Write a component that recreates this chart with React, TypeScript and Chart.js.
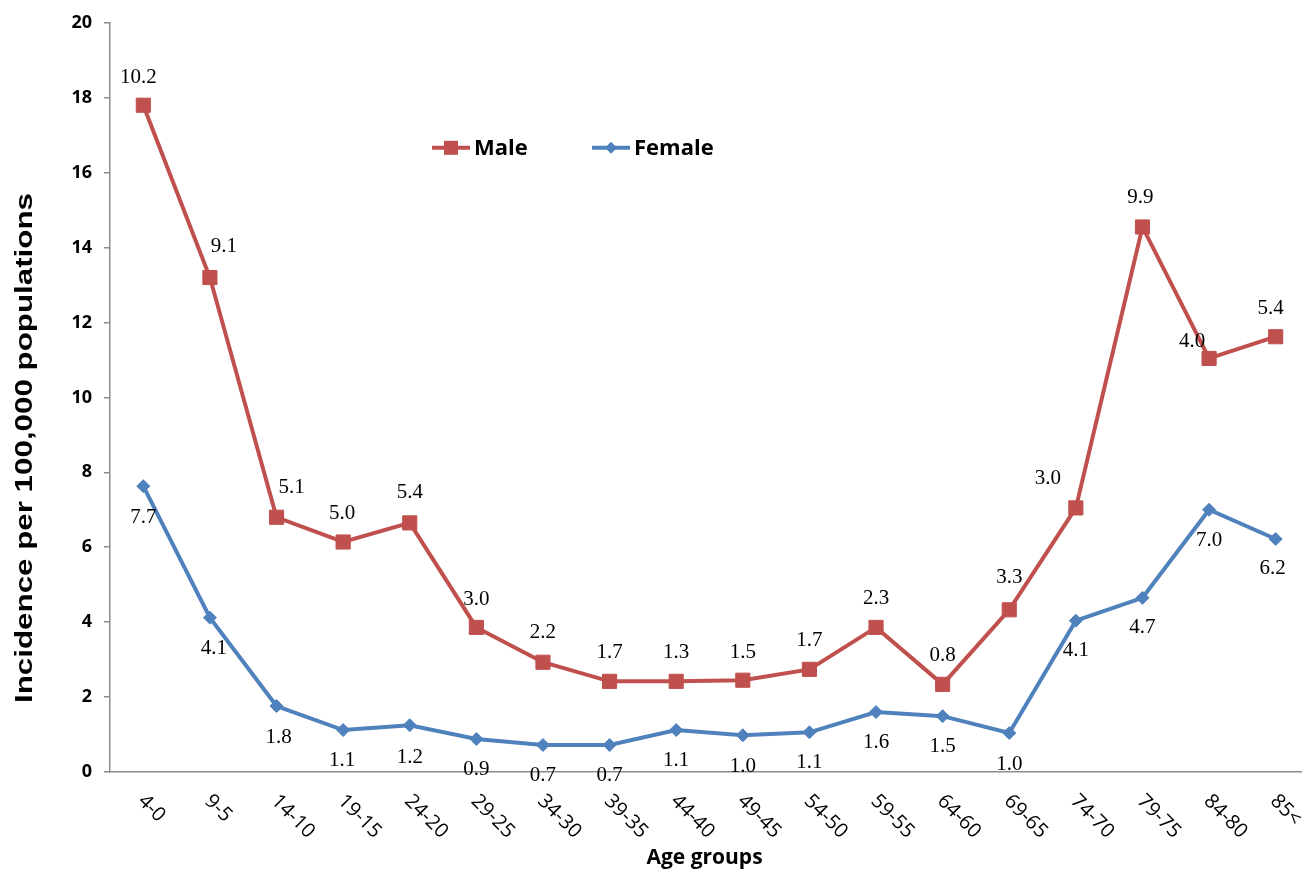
import React, { useEffect, useRef } from "react";
import { Chart, registerables } from "chart.js";

Chart.register(...registerables);

const ageGroups = ["4-0", "9-5", "14-10", "19-15", "24-20", "29-25", "34-30", "39-35", "44-40", "49-45", "54-50", "59-55", "64-60", "69-65", "74-70", "79-75", "84-80", "85<"];

const maleValues = [17.8, 13.2, 6.8, 6.14, 6.65, 3.86, 2.93, 2.42, 2.42, 2.45, 2.74, 3.86, 2.34, 4.33, 7.05, 14.55, 11.04, 11.62];
const femaleValues = [7.63, 4.12, 1.76, 1.12, 1.25, 0.88, 0.72, 0.72, 1.12, 0.98, 1.06, 1.6, 1.49, 1.04, 4.04, 4.65, 7.0, 6.22];

const maleLabels = ["10.2", "9.1", "5.1", "5.0", "5.4", "3.0", "2.2", "1.7", "1.3", "1.5", "1.7", "2.3", "0.8", "3.3", "3.0", "9.9", "4.0", "5.4"];
const femaleLabels = ["7.7", "4.1", "1.8", "1.1", "1.2", "0.9", "0.7", "0.7", "1.1", "1.0", "1.1", "1.6", "1.5", "1.0", "4.1", "4.7", "7.0", "6.2"];

// label placement nudges (pixels) relative to each point
const maleLabelDx = [-5, 14, 15, -1, 0, 0, 0, 0, 0, 0, 0, 0, 0, 0, -28, -2, -17, -5];
const maleLabelDy = [-28, -31, -30, -29, -30, -28, -30, -29, -29, -28, -29, -29, -29, -32, -29, -29, -17, -28];
const femaleLabelDx = [0, 4, 2, -1, 0, 0, 0, 0, 0, 0, 0, 0, 0, 0, 0, 0, 0, -3];
const femaleLabelDy = [31, 31, 31, 30, 32, 30, 30, 30, 30, 31, 30, 30, 30, 31, 30, 30, 31, 29];

const yTicks = [0, 2, 4, 6, 8, 10, 12, 14, 16, 18, 20];

const MALE = "#C0504D";
const FEMALE = "#4F81BD";

const overlayPlugin = {
  id: "overlay",
  afterDatasetsDraw(chart: any) {
    const ctx = chart.ctx as CanvasRenderingContext2D;
    ctx.save();
    ctx.font = '21px "Liberation Serif"';
    ctx.fillStyle = "#000";
    ctx.textAlign = "center";
    ctx.textBaseline = "middle";
    chart.getDatasetMeta(0).data.forEach((pt: any, i: number) => {
      ctx.fillText(maleLabels[i], pt.x + maleLabelDx[i], pt.y + maleLabelDy[i]);
    });
    chart.getDatasetMeta(1).data.forEach((pt: any, i: number) => {
      ctx.fillText(femaleLabels[i], pt.x + femaleLabelDx[i], pt.y + femaleLabelDy[i]);
    });
    ctx.restore();
  },
  afterDraw(chart: any) {
    const ctx = chart.ctx as CanvasRenderingContext2D;
    const area = chart.chartArea;
    const xs = chart.scales.x;
    ctx.save();
    // x tick labels, rotated 45deg clockwise, starting at the tick
    ctx.font = '20px "Open Sans"';
    ctx.fillStyle = "#000";
    ctx.textAlign = "left";
    ctx.textBaseline = "top";
    ageGroups.forEach((lab, i) => {
      const px = xs.getPixelForValue(i);
      ctx.save();
      ctx.translate(px + 5, area.bottom + 19);
      ctx.rotate(Math.PI / 4);
      ctx.fillText(lab, 0, 0);
      ctx.restore();
    });
    // x title
    ctx.font = 'bold 21px "Open Sans"';
    ctx.textAlign = "center";
    ctx.textBaseline = "middle";
    ctx.fillText("Age groups", (area.left + area.right) / 2 - 5, area.bottom + 86);
    // y title
    ctx.save();
    ctx.translate(25, 448);
    ctx.rotate(-Math.PI / 2);
    ctx.font = 'bold 24px "Liberation Sans"';
    const title = "Incidence per 100,000 populations";
    const w = ctx.measureText(title).width;
    ctx.scale(510 / w, 1);
    ctx.fillText(title, 0, 0);
    ctx.restore();
    // legend
    const drawEntry = (x0: number, y0: number, color: string, style: string, text: string) => {
      ctx.strokeStyle = color;
      ctx.lineWidth = 4;
      ctx.beginPath();
      ctx.moveTo(x0, y0);
      ctx.lineTo(x0 + 38, y0);
      ctx.stroke();
      ctx.fillStyle = color;
      const cx = x0 + 19;
      if (style === "rect") {
        ctx.fillRect(cx - 7, y0 - 7, 14, 14);
      } else {
        ctx.beginPath();
        ctx.moveTo(cx, y0 - 6);
        ctx.lineTo(cx + 6, y0);
        ctx.lineTo(cx, y0 + 6);
        ctx.lineTo(cx - 6, y0);
        ctx.closePath();
        ctx.fill();
      }
      ctx.fillStyle = "#000";
      ctx.font = 'bold 22px "Open Sans"';
      ctx.textAlign = "left";
      ctx.textBaseline = "middle";
      ctx.fillText(text, x0 + 42, y0 + 1);
    };
    drawEntry(area.left + 322, area.top + 125, MALE, "rect", "Male");
    drawEntry(area.left + 482, area.top + 125, FEMALE, "diamond", "Female");
    ctx.restore();
  },
};

export default function App() {
  const ref = useRef<HTMLCanvasElement | null>(null);
  useEffect(() => {
    document.body.style.overflow = "hidden";
    document.documentElement.style.overflow = "hidden";
    if (!ref.current) return;
    const chart = new Chart(ref.current, {
      type: "line",
      data: {
        labels: ageGroups,
        datasets: [
          {
            label: "Male",
            data: maleValues,
            borderColor: MALE,
            backgroundColor: MALE,
            borderWidth: 4,
            pointStyle: "rect",
            pointRadius: 10,
            pointBorderWidth: 1,
            pointBorderColor: MALE,
            pointBackgroundColor: MALE,
            tension: 0,
          },
          {
            label: "Female",
            data: femaleValues,
            borderColor: FEMALE,
            backgroundColor: FEMALE,
            borderWidth: 4,
            pointStyle: "rectRot",
            pointRadius: 6.5,
            pointBorderWidth: 1,
            pointBorderColor: FEMALE,
            pointBackgroundColor: FEMALE,
            tension: 0,
          },
        ],
      },
      options: {
        animation: false,
        responsive: false,
        layout: { padding: { left: 0, right: 7, top: 20, bottom: 0 } },
        plugins: { legend: { display: false }, tooltip: { enabled: false } },
        scales: {
          x: {
            type: "category",
            offset: true,
            grid: { display: false },
            border: { display: true, color: "#8c8c8c", width: 1.5 },
            ticks: { display: false },
            afterFit: (s: any) => {
              s.height = 101;
            },
          },
          y: {
            min: 0,
            max: 20,
            afterBuildTicks: (s: any) => {
              s.ticks = yTicks.map((v) => ({ value: v }));
            },
            grid: { drawOnChartArea: false, drawTicks: true, tickLength: 6, color: "#8c8c8c", lineWidth: 1.5 },
            border: { display: true, color: "#8c8c8c", width: 1.5 },
            ticks: {
              padding: 12,
              color: "#000",
              font: { family: "Open Sans", weight: "bold", size: 18 },
            },
            afterFit: (s: any) => {
              s.width = 110;
            },
          },
        },
      } as any,
      plugins: [overlayPlugin],
    });
    return () => chart.destroy();
  }, []);
  return (
    <div style={{ position: "absolute", left: 0, top: 0, width: 1320, height: 873, background: "#fff" }}>
      <canvas ref={ref} width={1320} height={873} style={{ width: 1320, height: 873, display: "block" }} />
    </div>
  );
}
